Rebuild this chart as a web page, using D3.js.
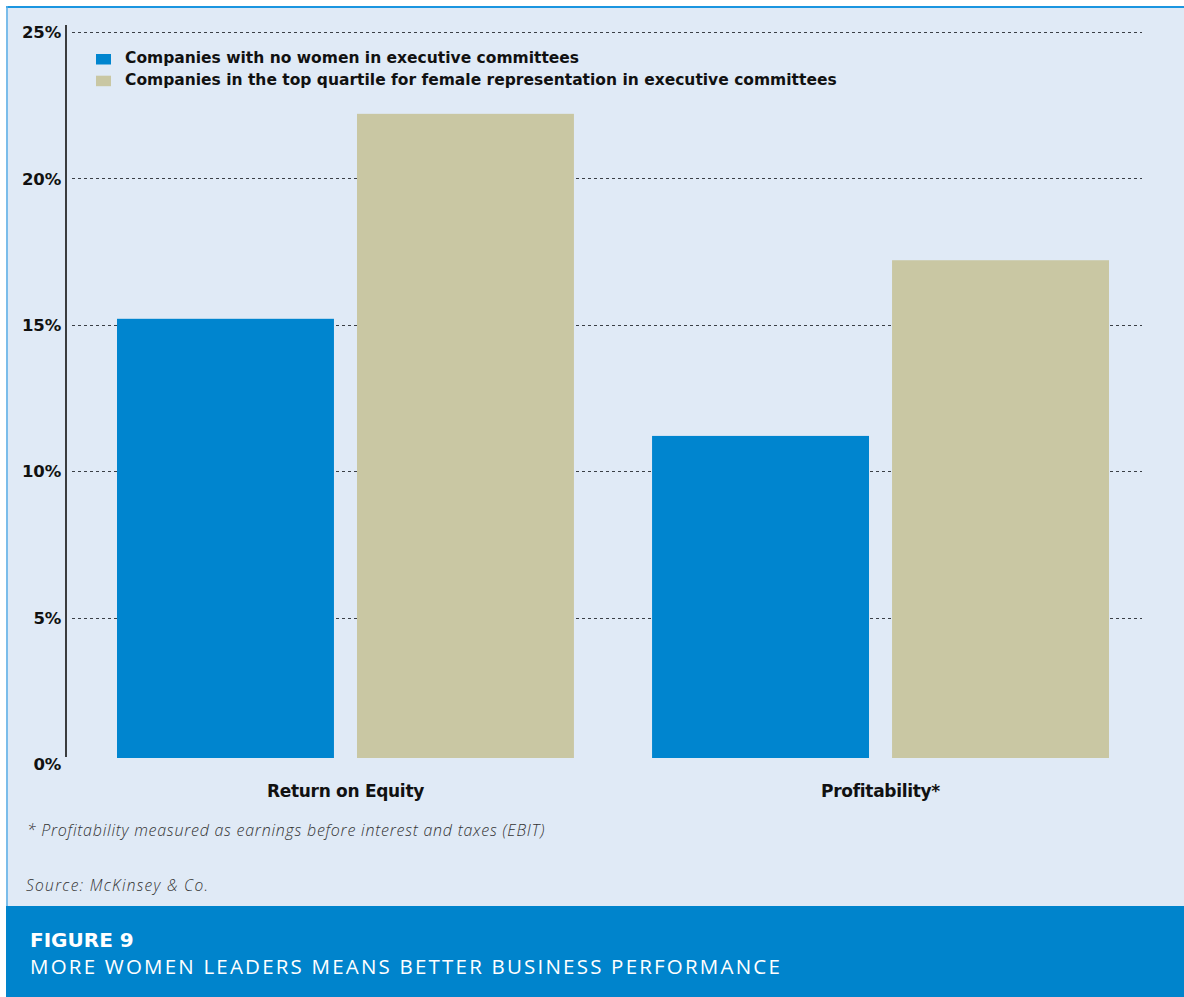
<!DOCTYPE html>
<html>
<head>
<meta charset="utf-8">
<script src="https://cdn.jsdelivr.net/npm/d3@7"></script>
<style>
  html, body { margin: 0; padding: 0; background: #ffffff; }
  svg { display: block; }
  text { font-family: "Open Sans", "DejaVu Sans", sans-serif; }
  .bold { font-family: "DejaVu Sans", sans-serif; font-weight: 700; }
</style>
</head>
<body>
<svg id="chart" width="1184" height="997"></svg>
<script>
// Metrics compared across the two company groups
const categories = ["Return on Equity", "Profitability*"];
const seriesNames = [
  "Companies with no women in executive committees",
  "Companies in the top quartile for female representation in executive committees"
];
const noWomen = [15, 11];
const topQuartile = [22, 17];
const tickValues = [0, 5, 10, 15, 20, 25];
const tickLabels = ["0%", "5%", "10%", "15%", "20%", "25%"];
const colors = ["#0085cf", "#c9c7a3"];

const footnote = "* Profitability measured as earnings before interest and taxes (EBIT)";
const source = "Source: McKinsey & Co.";
const figureNumber = "FIGURE 9";
const figureTitle = "MORE WOMEN LEADERS MEANS BETTER BUSINESS PERFORMANCE";

const rows = categories.map((c, i) => ({
  category: c,
  values: [
    { series: seriesNames[0], value: noWomen[i], color: colors[0] },
    { series: seriesNames[1], value: topQuartile[i], color: colors[1] }
  ]
}));

const svg = d3.select("#chart");
const W = 1184, H = 997;

// Panel background and frame
svg.append("rect").attr("x", 6).attr("y", 6).attr("width", W - 6).attr("height", H - 6)
  .attr("fill", "#e0eaf6");
svg.append("line").attr("x1", 6).attr("x2", W).attr("y1", 7).attr("y2", 7)
  .attr("stroke", "#1b96e0").attr("stroke-width", 2);
svg.append("line").attr("x1", 7).attr("x2", 7).attr("y1", 6).attr("y2", 906)
  .attr("stroke", "#5aaee6").attr("stroke-width", 1.5);

// Scales
const y = d3.scaleLinear().domain([0, 25]).range([764, 32]);
// bars sit on a baseline slightly above the 0% gridline
const yBar = d3.scaleLinear().domain([0, 25]).range([758, 26]);
const x0 = d3.scaleBand().domain(categories).range([117, 1109]).paddingInner(0.146).paddingOuter(0);
const x1 = d3.scaleBand().domain(seriesNames).range([0, x0.bandwidth()]).paddingInner(0.096);

// Dotted gridlines (every tick except zero)
svg.append("g")
  .selectAll("line")
  .data(tickValues.filter(v => v > 0))
  .join("line")
  .attr("x1", 72).attr("x2", 1142)
  .attr("y1", d => Math.round(y(d)) + 0.5).attr("y2", d => Math.round(y(d)) + 0.5)
  .attr("stroke", "#3a3f46").attr("stroke-width", 1)
  .attr("stroke-dasharray", "3,3");

// Y axis: vertical rule plus labels
const yAxis = d3.axisLeft(y).tickValues(tickValues)
  .tickFormat((d, i) => tickLabels[i]).tickSize(0).tickPadding(0);
const gy = svg.append("g").attr("transform", "translate(61,0)").call(yAxis);
gy.select(".domain").remove();
gy.selectAll("text")
  .attr("class", "bold")
  .attr("fill", "#111")
  .attr("font-size", 16.5)
  .attr("dy", "0.35em")
  .style("letter-spacing", "-0.2px");

svg.append("line").attr("x1", 66).attr("x2", 66).attr("y1", 25).attr("y2", 757)
  .attr("stroke", "#111").attr("stroke-width", 1.6);

// Bars
const groups = svg.append("g").selectAll("g")
  .data(rows).join("g")
  .attr("transform", d => `translate(${x0(d.category)},0)`);
groups.selectAll("rect")
  .data(d => d.values).join("rect")
  .attr("x", d => x1(d.series))
  .attr("width", x1.bandwidth())
  .attr("y", d => yBar(d.value))
  .attr("height", d => yBar(0) - yBar(d.value))
  .attr("fill", d => d.color);

// Category labels
svg.append("g").selectAll("text")
  .data(categories).join("text")
  .attr("class", "bold")
  .attr("x", d => x0(d) + x0.bandwidth() / 2)
  .attr("y", 797)
  .attr("text-anchor", "middle")
  .attr("font-size", 17)
  .attr("fill", "#111")
  .style("letter-spacing", "-0.3px")
  .text(d => d);

// Legend
const legend = svg.append("g").selectAll("g")
  .data(seriesNames).join("g")
  .attr("transform", (d, i) => `translate(96,${54 + i * 21.7})`);
legend.append("rect").attr("width", 15).attr("height", 10.5)
  .attr("fill", (d, i) => colors[i]);
legend.append("text").attr("class", "bold").attr("x", 29).attr("y", 9.3)
  .attr("font-size", 15.5).attr("fill", "#111")
  .text(d => d);

// Notes
svg.append("text").attr("x", 27).attr("y", 836)
  .attr("font-size", 16).attr("font-style", "italic").attr("font-weight", 300)
  .style("letter-spacing", "0.75px")
  .attr("fill", "#333").text(footnote);
svg.append("text").attr("x", 26).attr("y", 891)
  .attr("font-size", 15.5).attr("font-style", "italic").attr("font-weight", 300)
  .style("letter-spacing", "1.3px")
  .attr("fill", "#333").text(source);

// Figure caption band
svg.append("rect").attr("x", 6).attr("y", 906).attr("width", W - 6).attr("height", H - 906)
  .attr("fill", "#0084cc");
svg.append("text").attr("class", "bold").attr("x", 30).attr("y", 947)
  .attr("font-size", 20).attr("fill", "#ffffff")
  .text(figureNumber);
svg.append("text").attr("x", 30).attr("y", 974)
  .attr("font-size", 20.5).attr("font-weight", 400).attr("fill", "#ffffff")
  .style("letter-spacing", "2.2px")
  .text(figureTitle);
</script>
</body>
</html>
